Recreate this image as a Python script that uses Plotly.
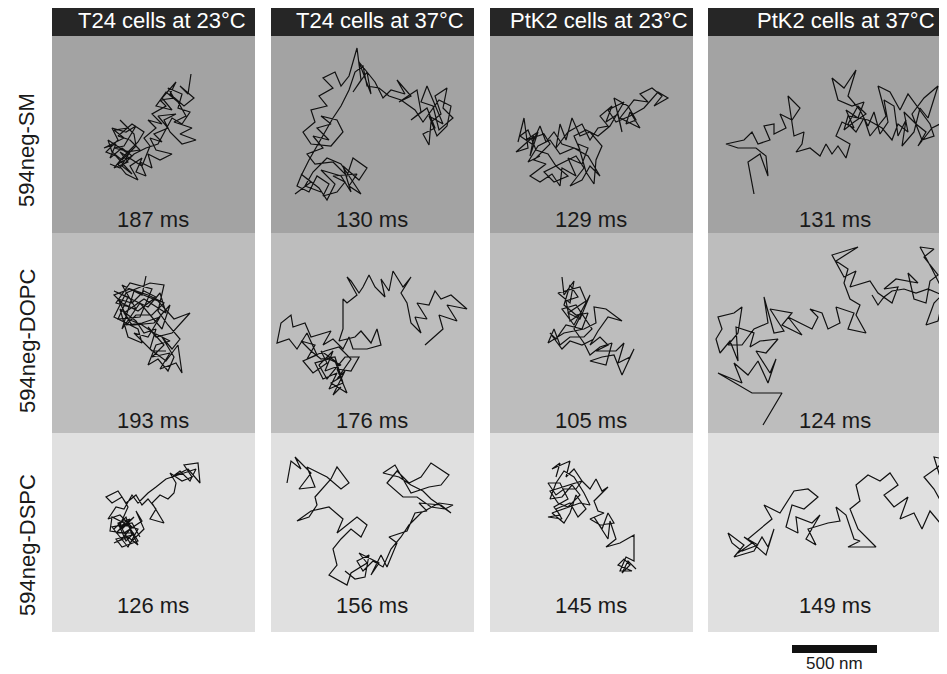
import plotly.graph_objects as go

# ---------------- data ----------------
cell_conditions = ["T24 cells at 23°C", "T24 cells at 37°C", "PtK2 cells at 23°C", "PtK2 cells at 37°C"]
probes = ["594neg-SM", "594neg-DOPC", "594neg-DSPC"]
# trajectory durations (ms), rows = probes, cols = conditions
durations_ms = [[187, 130, 129, 131],
                [193, 176, 105, 124],
                [126, 156, 145, 149]]
scalebar_nm = 500
nm_per_unit = 500 / 85  # image units -> nm

# trajectories in image units (x right, y down), one per panel
sm_t24_23 = [(139,38),(136,58),(128,50),(142,62),(132,70),(118,58),(124,46),(110,62),(120,74),(104,70),(114,56),(126,66),(134,80),(122,86),(140,92),(128,98),(144,104),(130,108),(118,96),(112,84),(124,78),(106,80),(116,92),(102,98),(110,106),(98,102),(104,114),(120,118),(108,124),(96,118),(100,132),(88,126),(94,140),(84,136),(90,122),(78,130),(86,144),(74,138),(66,128),(80,120),(70,112),(58,122),(64,108),(52,112),(72,102),(62,94),(76,92),(68,84),(82,98),(84,110),(70,124),(60,116),(56,104),(74,116),(88,114),(78,104),(66,100),(80,88),(92,96),(86,106),(72,120),(62,132),(76,126),(68,116),(90,130),(98,110),(92,102),
             (104,92),(96,84),(110,88),(100,78),(114,70),(108,64),(122,62),(116,52),(130,58),(126,72),(138,76),(130,88),(120,82),(112,96),(106,108),(94,112),(82,118),(70,130),(80,138),(64,120),(54,116),(66,104),(60,92),(74,96),(84,90),(72,110),(62,112),(78,116),(68,132),(58,128)]
sm_t24_37 = [(24,158),(40,146),(30,138),(48,152),(56,164),(64,148),(50,134),(70,140),(80,156),(72,130),(88,144),(96,132),(82,122),(76,140),(62,126),(44,128),(36,118),(52,112),(42,100),(58,104),(46,92),(60,88),(50,80),(66,84),(72,96),(60,110),(40,108),(32,96),(44,86),(40,74),(56,70),(48,60),(62,52),(52,42),(64,36),(70,50),(78,40),(86,12),(90,44),(82,56),(96,36),(100,58),(88,26),(104,46),(112,62),(120,54),(134,58),(126,44),(140,60),(128,66),(146,54),(150,76),(140,84),(156,72),(164,92),(152,98),(158,109),(160,86),(170,78),(164,60),(176,52),(172,72),(182,82),(168,94),(162,70),(150,66),(156,50),
             (162,64),(172,88),(158,80),(166,100),(176,90),(180,70),(168,64),(152,86),(144,74),(130,64),(118,60),(108,52),(96,50),(92,30),(84,36),(78,54),(70,70),(62,82),(54,96),(46,110),(38,124),(30,140),(26,150),(38,156),(46,140),(58,148),(52,160),(66,156),(74,146),(62,140),(86,138),(78,150),(90,158),(70,128),(56,122),(42,136),(34,150),(50,156)]
sm_ptk2_23 = [(28,106),(34,82),(38,112),(26,116),(44,100),(40,120),(48,96),(36,104),(54,98),(60,108),(44,124),(56,128),(40,140),(50,146),(62,138),(70,150),(72,132),(86,140),(78,122),(92,128),(98,112),(88,108),(96,136),(104,148),(106,124),(112,110),(100,96),(90,100),(82,82),(76,104),(70,88),(66,112),(78,96),(92,88),(100,104),(108,92),(118,90),(110,80),(122,70),(116,86),(128,78),(132,96),(124,62),(138,70),(146,84),(136,88),(140,76),(150,92),(130,82),(144,64),(158,66),(150,58),(162,52),(172,60),(164,70),(178,62),(168,56),(154,72),
              (140,80),(126,86),(118,74),(134,66),(120,90),(108,100),(96,94),(84,100),(90,114),(72,108),(64,96),(56,106),(50,90),(42,108),(30,100),(38,94),(46,114),(58,118),(66,130),(78,140),(64,146),(54,136),(74,126),(86,120),(94,132),(80,150),(92,144),
              (100,130),(110,140),(98,120),(84,112),(70,118),(60,104),(48,110),(38,126),(50,120)]
sm_ptk2_37 = [(46,158),(40,126),(52,118),(60,140),(58,120),(48,112),(30,112),(18,108),(36,104),(44,96),(50,108),(62,104),(56,90),(66,88),(66,98),(78,92),(72,78),(84,84),(92,72),(80,60),(86,100),(96,96),(94,108),(88,116),(102,112),(112,120),(118,108),(124,118),(130,110),(138,122),(142,108),(128,100),(134,86),(146,92),(138,74),(150,82),(156,66),(144,70),(130,64),(124,42),(136,52),(148,34),(140,60),(152,74),(160,90),(166,76),(172,98),(180,86),(176,64),(186,70),(190,100),(198,84),(194,110),(206,96),(212,72),(220,82),(230,50),(216,62),(204,78),(214,104),(226,100),(222,88),(200,58),(192,74),(182,56),(170,50),(178,80),(162,100),
              (156,82),(148,96),(140,88),(150,70),(158,78),(146,86),(136,94),(140,80),(160,84),(174,92),(184,104),(190,88),(200,96),(196,76),(208,88),(218,96),(210,110),(224,92),(236,86)]

dopc_t24_23 = [(94,43),(90,62),(70,52),(84,76),(64,70),(78,50),(100,56),(88,84),(66,86),(76,64),(62,58),(96,74),(108,60),(114,80),(92,66),(72,80),(80,92),(102,90),(118,72),(110,96),(88,70),(70,96),(82,58),(106,68),(122,86),(138,80),(120,100),(104,104),(96,94),(112,112),(100,124),(118,120),(108,136),(124,130),(130,140),(126,112),(114,128),(98,116),(104,96),(92,100),(84,88),(68,76),(76,104),(90,110),(86,96),(62,84),(74,60),(98,50),(112,52),(106,78),(116,92),(128,106),
               (120,116),(110,104),(122,124),(116,138),(106,126),(96,132),(104,112),(118,108),(102,100),(90,92),(76,86),(66,66),(80,70),(92,58),(104,64),(86,78),(70,70),(62,62),(78,56),(96,62),(112,70),(100,82),(84,82),(74,92),(90,90),(108,84),(96,104),(82,100),(100,118),(114,118)]
dopc_t24_37 = [(154,112),(172,96),(168,82),(186,88),(176,72),(196,76),(180,62),(170,66),(164,58),(158,72),(146,70),(156,86),(144,84),(150,100),(140,90),(136,70),(130,60),(140,44),(132,54),(122,38),(118,58),(110,46),(114,64),(104,54),(98,42),(92,54),(88,60),(80,48),(76,44),(86,62),(76,70),(72,66),(72,96),(68,108),(84,104),(90,98),(100,110),(106,96),(110,112),(96,116),(82,116),(78,104),(72,116),(62,106),(52,112),(60,98),(40,104),(34,90),(22,94),(20,82),(10,90),(6,110),(18,106),(26,116),(36,100),(46,122),(32,128),(42,140),(56,130),(50,118),(64,128),(70,144),(60,150),(76,160),(66,136),(80,138),(88,124),(74,124),(56,146),(48,132),(62,118),(54,138),
               (70,132),(58,126),(44,130),(52,146),(66,140),(58,156),(72,150),(64,124),(50,126),(40,118),(30,108),(44,112),(36,126),(54,118),(68,114),(80,126),(66,146),(74,138),(62,162),(70,154)]
dopc_ptk2_23 = [(72,44),(74,62),(84,48),(80,70),(68,60),(90,54),(96,68),(78,80),(90,86),(100,62),(84,92),(72,76),(86,72),(102,96),(94,104),(80,104),(70,112),(64,96),(58,110),(74,100),(94,96),(106,90),(104,74),(116,76),(132,88),(118,84),(108,98),(100,112),(110,104),(118,112),(106,118),(126,118),(134,110),(128,130),(140,124),(144,116),(132,142),(124,122),(112,124),(100,128),(116,132),(122,110),
                (110,114),(100,122),(94,110),(84,96),(92,80),(80,88),(76,68),(88,64),(80,52),(74,72),(86,82),(98,80),(92,96),(76,92),(66,106),(60,100),(72,116),(80,108),(92,112),(104,106)]
dopc_ptk2_37 = [(55,192),(74,160),(44,160),(10,140),(34,150),(26,130),(40,142),(50,128),(60,150),(68,126),(62,140),(48,118),(58,120),(70,106),(52,108),(42,114),(46,100),(28,94),(30,128),(22,108),(12,120),(8,106),(14,96),(10,84),(26,80),(34,74),(30,100),(20,112),(34,112),(46,96),(60,90),(56,64),(66,100),(76,98),(62,76),(84,80),(74,92),(94,102),(80,84),(104,96),(110,84),(102,76),(114,80),(120,96),(132,90),(128,74),(146,80),(140,96),(158,100),(148,82),(152,72),(142,66),(136,50),(140,36),(128,28),(150,14),(124,22),(136,44),(148,38),(142,54),(162,48),(170,60),(184,70),(190,54),(176,56),(188,46),(210,50),(200,40),(206,66),(218,70),(222,48),(230,42),(216,24),(226,16),(212,14),(224,36),(236,60),(230,88),(218,92),
                (226,70),(234,62),(220,56),(208,60),(196,56),(184,58),(176,64),(170,72),(164,62)]

dspc_t24_23 = [(62,96),(74,84),(80,102),(64,106),(70,114),(86,108),(76,92),(60,84),(58,98),(72,100),(90,88),(84,78),(92,96),(78,110),(68,92),(76,74),(70,64),(60,70),(54,64),(66,58),(74,70),(84,62),(90,72),(96,66),(104,76),(98,86),(112,90),(100,70),(108,62),(116,66),(122,60),(124,50),(118,40),(130,48),(140,44),(132,32),(146,30),(148,50),(136,36),(120,44),(128,38),
               (138,48),(144,36),(126,42),(114,46),(104,54),(96,60),(86,70),(80,62),(72,76),(64,74),(56,86),(68,82),(80,94),(70,106),(62,110),(76,104),(86,112),(74,88),(66,98),(82,84),
               (70,96),(78,86),(66,90),(74,108),(82,100),(64,100),(72,92),(86,96),(76,114),(68,104),(60,94),(80,90),(88,104)]
dspc_t24_37 = [(16,50),(20,28),(30,36),(24,24),(40,40),(28,56),(44,54),(36,34),(56,44),(70,56),(78,50),(66,34),(60,46),(44,64),(46,72),(38,84),(26,88),(40,78),(58,74),(72,86),(66,100),(86,84),(96,92),(90,104),(80,96),(70,106),(62,116),(66,132),(58,142),(76,152),(80,140),(96,130),(88,120),(108,130),(100,142),(110,122),(116,134),(126,110),(118,104),(136,98),(144,80),(156,78),(148,70),(170,72),(180,80),(160,66),(152,58),(140,52),(128,44),(112,40),(124,32),(140,60),(158,54),(170,52),(178,42),(160,30),
               (150,44),(138,50),(126,38),(116,50),(132,64),(146,64),(160,74),(174,76),(182,72),(168,70),(150,80),(138,92),(130,104),(120,116),(112,134),(102,128),(92,138),(86,128),(98,122),(94,144),(84,146),(74,138)]
dspc_ptk2_23 = [(66,44),(70,30),(62,36),(80,28),(76,44),(84,36),(92,48),(86,56),(74,56),(66,62),(58,50),(70,50),(78,66),(64,74),(70,82),(58,84),(72,86),(66,76),(80,70),(88,84),(96,76),(86,62),(80,80),(74,90),(62,80),(90,70),(100,72),
                (94,60),(84,44),(74,38),(66,50),(60,66),(72,64),(82,52),(90,62),(78,74),(68,70),(60,58),
                (92,48),(100,56),(106,46),(112,58),(118,54),(104,68),(108,78),(114,80),(100,86),(110,92),(124,90),(118,80),(112,96),(104,84),(118,106),(120,88),(126,106),(116,114),(130,110),(144,102),(144,128),(136,124),(130,138),(142,138),(128,132),(134,126),(140,132),(132,140),(138,128),(146,136)]
dspc_ptk2_37 = [(30,120),(44,110),(36,104),(50,112),(34,118),(24,110),(20,100),(36,112),(26,124),(46,118),(54,104),(60,114),(66,96),(58,122),(40,106),(64,86),(56,72),(72,80),(86,58),(100,56),(110,64),(96,76),(84,72),(78,94),(90,100),(88,84),(104,90),(112,82),(98,106),(108,112),(100,96),(120,90),(132,88),(128,74),(138,82),(146,106),(152,108),(140,114),(168,114),(150,96),(142,76),(152,68),(148,52),(160,42),(172,48),(182,40),(190,52),(176,62),(186,74),(200,64),(192,86),(206,80),(214,96),(222,78),(232,90),(236,74),(226,56),(216,44),(230,34),(236,26),(226,24),(240,70)]

tracks = [[sm_t24_23, sm_t24_37, sm_ptk2_23, sm_ptk2_37],
          [dopc_t24_23, dopc_t24_37, dopc_ptk2_23, dopc_ptk2_37],
          [dspc_t24_23, dspc_t24_37, dspc_ptk2_23, dspc_ptk2_37]]

# ---------------- layout (page has an 8 px body margin) ----------------
OFF = 8
W, H = 947 - OFF, 674 - OFF
col_x0 = [52, 271, 490, 708]
col_w = [203, 203, 203, 239]
row_y0 = [36, 233, 433]
row_h = [197, 200, 199]
row_bg = ["#a3a3a3", "#bdbdbd", "#e0e0e0"]
header_y = (6, 36)
label_x_center = [153, 372, 591, 835]
label_y_center = [220, 420, 605]
header_text_x = [162, 380, 599, 846]
probe_label_y = [150, 341, 545]

FONT = "Liberation Sans, Arial, sans-serif"

def px(x):
    return (x - OFF) / W

def py(y):
    return 1 - (y - OFF) / H

fig = go.Figure()
shapes = []
annotations = []
layout_axes = {}

k = 0
for r in range(3):
    for c in range(4):
        k += 1
        sfx = "" if k == 1 else str(k)
        x0, w = col_x0[c], col_w[c]
        y0, h = row_y0[r], row_h[r]
        layout_axes["xaxis" + sfx] = dict(domain=[px(x0), min(1, px(x0 + w))], range=[0, min(w, 947 - x0)],
                                          visible=False, showgrid=False, zeroline=False, fixedrange=True)
        layout_axes["yaxis" + sfx] = dict(domain=[py(y0 + h), py(y0)], range=[h, 0],
                                          visible=False, showgrid=False, zeroline=False, fixedrange=True)
        shapes.append(dict(type="rect", xref="paper", yref="paper", x0=px(x0), x1=min(1, px(x0 + w)),
                           y0=py(y0 + h), y1=py(y0), fillcolor=row_bg[r], line=dict(width=0), layer="below"))
        pts = tracks[r][c]
        fig.add_trace(go.Scatter(x=[p[0] for p in pts], y=[p[1] for p in pts], mode="lines",
                                 line=dict(color="#111111", width=1.2), xaxis="x" + sfx, yaxis="y" + sfx,
                                 hoverinfo="skip", showlegend=False))
        annotations.append(dict(text=f"{durations_ms[r][c]} ms", xref="paper", yref="paper",
                                x=px(label_x_center[c]), y=py(label_y_center[r]), xanchor="center",
                                yanchor="middle", showarrow=False, font=dict(size=22, color="#1a1a1a", family=FONT)))

for c in range(4):
    x0, w = col_x0[c], col_w[c]
    shapes.append(dict(type="rect", xref="paper", yref="paper", x0=px(x0), x1=min(1, px(x0 + w)),
                       y0=py(header_y[1]), y1=py(header_y[0]), fillcolor="#262626", line=dict(width=0)))
    annotations.append(dict(text=cell_conditions[c], xref="paper", yref="paper", x=px(header_text_x[c]),
                            y=py(21), xanchor="center", yanchor="middle", showarrow=False,
                            font=dict(size=22, color="white", family=FONT)))

for r in range(3):
    annotations.append(dict(text=probes[r], xref="paper", yref="paper", x=px(27), y=py(probe_label_y[r]),
                            xanchor="center", yanchor="middle", textangle=-90, showarrow=False,
                            font=dict(size=22, color="#1a1a1a", family=FONT)))

# scale bar (length from data scale)
bar_len = scalebar_nm / nm_per_unit
bar_x0 = 792
shapes.append(dict(type="line", xref="paper", yref="paper", x0=px(bar_x0), x1=px(bar_x0 + bar_len),
                   y0=py(649), y1=py(649), line=dict(color="#111111", width=8)))
annotations.append(dict(text=f"{scalebar_nm} nm", xref="paper", yref="paper", x=px(bar_x0 + bar_len / 2),
                        y=py(663), xanchor="center", yanchor="middle", showarrow=False,
                        font=dict(size=17, color="#1a1a1a", family=FONT)))

fig.update_layout(width=W, height=H, margin=dict(l=0, r=0, t=0, b=0), paper_bgcolor="white",
                  plot_bgcolor="rgba(0,0,0,0)", shapes=shapes, annotations=annotations,
                  showlegend=False, **layout_axes)

fig.write_html("out.html", config={"displayModeBar": False})
